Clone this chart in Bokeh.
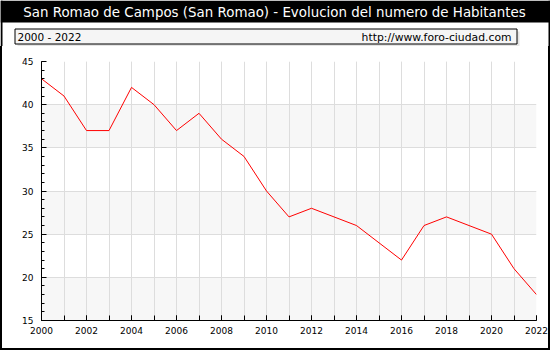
from bokeh.plotting import figure
from bokeh.models import Range1d, SingleIntervalTicker, BoxAnnotation, Div
from bokeh.layouts import column, row
from bokeh.core.properties import value
from bokeh.embed import file_html
from bokeh.resources import INLINE

title_text = "San Romao de Campos (San Romao) - Evolucion del numero de Habitantes"
period_text = "2000 - 2022"
url_text = "http://www.foro-ciudad.com"

years = [2000, 2001, 2002, 2003, 2004, 2005, 2006, 2007, 2008, 2009, 2010, 2011,
         2012, 2013, 2014, 2015, 2016, 2017, 2018, 2019, 2020, 2021, 2022]
habitantes = [43, 41, 37, 37, 42, 40, 37, 39, 36, 34, 30, 27,
              28, 27, 26, 24, 22, 26, 27, 26, 25, 21, 18]

FONT = "DejaVu Sans"
W, H = 550, 350
HEAD_H = 46
BORDER = 2

# ---------------- header (title bar + info box), pixel coordinates ----------------
hdr = figure(width=W, height=HEAD_H, output_backend="svg", toolbar_location=None,
             x_range=Range1d(0, W), y_range=Range1d(HEAD_H, 0),
             x_axis_location=None, y_axis_location=None,
             min_border=0, background_fill_color="white", border_fill_color="white")
hdr.grid.visible = False
hdr.outline_line_color = None
hdr.quad(left=[0], right=[W], top=[0], bottom=[22], fill_color="black", line_color=None)
hdr.quad(left=[0, W - BORDER], right=[BORDER, W], top=[0, 0], bottom=[HEAD_H, HEAD_H],
         fill_color="black", line_color=None)
hdr.quad(left=[17], right=[519], top=[31], bottom=[46], fill_color="#e4e4e4", line_color=None)
hdr.quad(left=[14.5], right=[516.5], top=[28.5], bottom=[43.5], fill_color="#f5f5f5",
         line_color="black", line_width=1)
hdr.text(x=[274], y=[11.5], text=[title_text], text_font=value(FONT), text_font_size="13.4px",
         text_color="white", text_align="center", text_baseline="middle")
hdr.text(x=[17], y=[36.5], text=[period_text], text_font=value(FONT), text_font_size="10.5px",
         text_color="black", text_align="left", text_baseline="middle")
hdr.text(x=[511], y=[36.5], text=[url_text], text_font=value(FONT), text_font_size="10.8px",
         text_color="black", text_align="right", text_baseline="middle")

# ---------------- main chart ----------------
MW = W - 2 * BORDER
MH = H - HEAD_H - BORDER
p = figure(width=MW, height=MH, output_backend="svg", toolbar_location=None,
           x_range=Range1d(2000, 2022), y_range=Range1d(15, 45),
           min_border_left=39, min_border_right=12, min_border_top=15, min_border_bottom=28,
           background_fill_color="white", border_fill_color="white")
p.outline_line_color = None

# alternating horizontal bands
for lo, hi in [(15, 20), (25, 30), (35, 40)]:
    p.add_layout(BoxAnnotation(bottom=lo, top=hi, fill_color="#f7f7f7", fill_alpha=1,
                               line_color=None, level="image"))

p.line(years, habitantes, line_color="#ff0000", line_width=1)

p.xaxis.ticker = SingleIntervalTicker(interval=2, num_minor_ticks=2)
p.yaxis.ticker = SingleIntervalTicker(interval=5, num_minor_ticks=5)
for ax in (p.xaxis[0], p.yaxis[0]):
    ax.axis_line_color = "black"
    ax.major_tick_line_color = "black"
    ax.minor_tick_line_color = "black"
    ax.major_tick_out = 0
    ax.minor_tick_out = 0
    ax.major_tick_in = 5
    ax.major_label_text_font = FONT
    ax.major_label_text_font_size = "9px"
    ax.major_label_text_color = "black"
p.xaxis.minor_tick_in = 5
p.yaxis.minor_tick_in = 3
p.xaxis.major_label_standoff = 6
p.yaxis.major_label_standoff = 8

p.xgrid.grid_line_color = "#dddddd"
p.xgrid.minor_grid_line_color = "#dddddd"
p.ygrid.grid_line_color = "#dddddd"


def strip(w, h):
    return Div(width=w, height=h, styles={"background-color": "black", "margin": "0"})


layout = column(hdr,
                row(strip(BORDER, MH), p, strip(BORDER, MH), spacing=0),
                strip(W, BORDER), spacing=0)

open("out.html", "w").write(file_html(layout, INLINE))
